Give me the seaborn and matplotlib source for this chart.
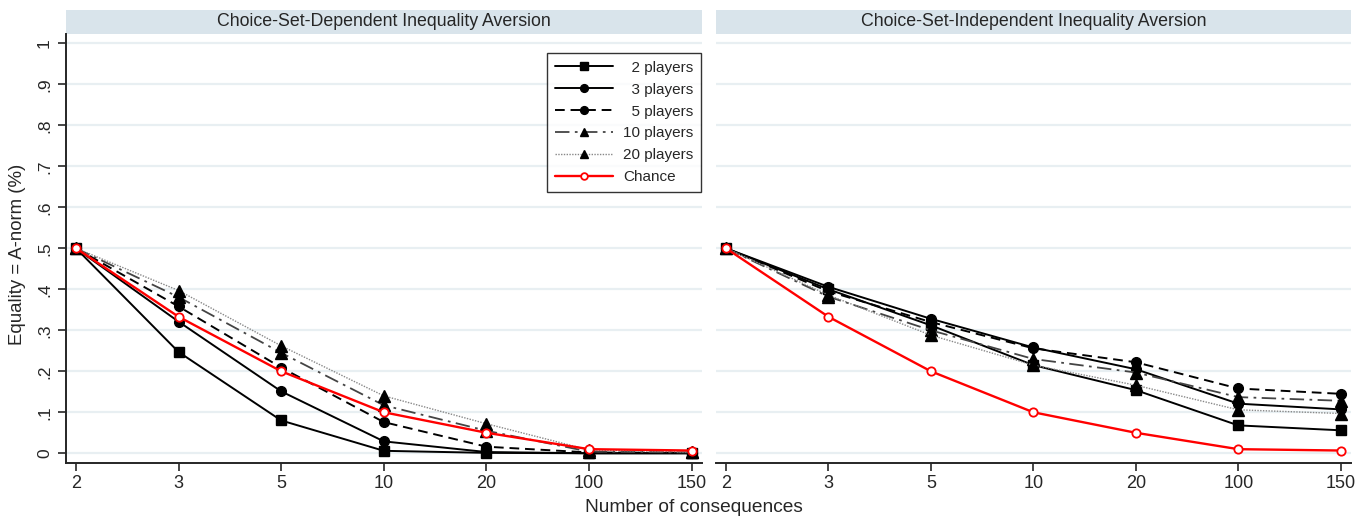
import numpy as np
import pandas as pd
import matplotlib

matplotlib.use("Agg")
import matplotlib.pyplot as plt
from matplotlib.patches import Rectangle
import seaborn as sns

# data
consequences = ["2", "3", "5", "10", "20", "100", "150"]
panel_titles = ["Choice-Set-Dependent Inequality Aversion",
                "Choice-Set-Independent Inequality Aversion"]
series_names = ["  2 players", "  3 players", "  5 players", "10 players", "20 players", "Chance"]

dep_2 = [0.5, 0.247, 0.080, 0.006, 0.001, 0.000, 0.000]
dep_3 = [0.5, 0.321, 0.151, 0.029, 0.003, 0.000, 0.000]
dep_5 = [0.5, 0.358, 0.209, 0.076, 0.016, 0.002, 0.001]
dep_10 = [0.5, 0.381, 0.245, 0.117, 0.055, 0.004, 0.002]
dep_20 = [0.5, 0.397, 0.262, 0.140, 0.072, 0.008, 0.003]

ind_2 = [0.5, 0.400, 0.312, 0.215, 0.154, 0.068, 0.056]
ind_3 = [0.5, 0.406, 0.328, 0.258, 0.205, 0.121, 0.107]
ind_5 = [0.5, 0.395, 0.320, 0.256, 0.222, 0.158, 0.145]
ind_10 = [0.5, 0.382, 0.300, 0.230, 0.197, 0.137, 0.128]
ind_20 = [0.5, 0.386, 0.288, 0.215, 0.166, 0.106, 0.097]

chance = [0.5, 0.333, 0.2, 0.1, 0.05, 0.01, 0.0067]

sns.set_style("white")
plt.rcParams["font.family"] = ["Liberation Sans", "DejaVu Sans"]

# line styles per series
styles = [
    dict(color="black", marker="s", ms=7.5, ls="-", lw=1.4),
    dict(color="black", marker="o", ms=7, ls="-", lw=1.4),
    dict(color="black", marker="o", ms=7, ls=(0, (5, 3)), lw=1.4),
    dict(color="#444444", marker="^", ms=8, ls=(0, (8, 3, 1.5, 3)), lw=1.3),
    dict(color="#888888", marker="^", ms=8, ls=(0, (1, 1)), lw=1.0),
    dict(color="red", marker="o", ms=6, ls="-", lw=1.7, mfc="white", mew=1.3),
]

fig = plt.figure(figsize=(13.68, 5.18), dpi=100)
ax1 = fig.add_axes([66 / 1368, 1 - 462.7 / 518, 636 / 1368, 429 / 518])
ax2 = fig.add_axes([716 / 1368, 1 - 462.7 / 518, 635 / 1368, 429 / 518])

panels = [(ax1, [dep_2, dep_3, dep_5, dep_10, dep_20, chance]),
          (ax2, [ind_2, ind_3, ind_5, ind_10, ind_20, chance])]

for i, (ax, values) in enumerate(panels):
    for name, vals, st in zip(series_names, values, styles):
        df = pd.DataFrame({"x": np.arange(len(consequences)), "y": vals})
        st = dict(st)
        is_red = st["color"] == "red"
        mfc = st.pop("mfc", "black")
        mec = "red" if is_red else "black"
        sns.lineplot(data=df, x="x", y="y", ax=ax, sort=False, legend=False,
                     label=name, color=st["color"], marker=st["marker"],
                     markersize=st["ms"], linestyle=st["ls"], linewidth=st["lw"],
                     markerfacecolor=mfc, mec=mec, mew=st.get("mew", 1.0))

    ax.set_xlim(-0.097, 6.1)
    ax.set_ylim(-0.023, 1.0234)
    ax.set_xticks(range(len(consequences)))
    ax.set_xticklabels(consequences, fontsize=13)
    ax.set_yticks(np.arange(0, 1.01, 0.1))
    ax.set_xlabel("")
    ax.set_ylabel("")
    ax.grid(axis="y", color="#e8eff2", lw=1.6)
    ax.grid(axis="x", visible=False)
    ax.set_axisbelow(True)
    for s in ["top", "right"]:
        ax.spines[s].set_visible(False)
    ax.spines["bottom"].set_linewidth(1.4)
    ax.spines["left"].set_linewidth(1.4)
    ax.tick_params(axis="x", direction="out", length=6, width=1.2, bottom=True, pad=3)

    # title strip
    strip_h = 23.7 / 429
    ax.add_patch(Rectangle((0, 1), 1, strip_h, transform=ax.transAxes,
                           facecolor="#d9e4eb", edgecolor="none", clip_on=False))
    ax.text(0.5, 1 + strip_h / 2, panel_titles[i], transform=ax.transAxes,
            ha="center", va="center", fontsize=12.75)

ax1.set_yticklabels(["0", ".1", ".2", ".3", ".4", ".5", ".6", ".7", ".8", ".9", "1"],
                    rotation=90, va="center", fontsize=12.5)
ax1.tick_params(axis="y", direction="out", length=6, width=1.2, left=True, pad=4)
ax2.tick_params(axis="y", left=False, labelleft=False)
ax2.spines["left"].set_visible(False)

handles = ax1.get_lines()[:6]
leg = ax1.legend(handles, series_names, loc="upper right", bbox_to_anchor=(0.999, 0.955),
                 borderaxespad=0, fontsize=11, frameon=True, fancybox=False,
                 handlelength=3.8, labelspacing=0.52, borderpad=0.5,
                 handletextpad=0.7, markerscale=0.8)
leg.get_frame().set_edgecolor("black")
leg.get_frame().set_linewidth(1.0)

fig.text(18 / 1368, 1 - 254 / 518, "Equality = A-norm (%)", rotation=90,
         ha="center", va="center", fontsize=13.4)
fig.text(694 / 1368, 1 - 507 / 518, "Number of consequences", ha="center", va="center",
         fontsize=13.8)

fig.savefig("out.png", dpi=100)
plt.close(fig)
